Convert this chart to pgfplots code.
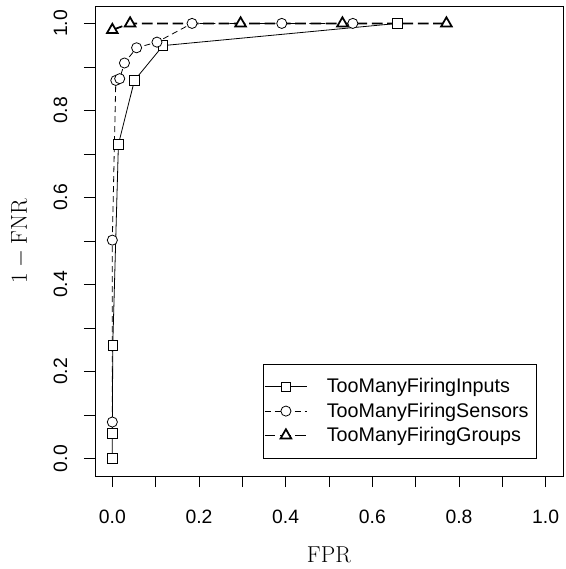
\documentclass[border=0pt]{standalone}
\usepackage[no-math]{fontspec}
\setmainfont{Liberation Sans}
\usepackage{pgfplots}
\pgfplotsset{compat=1.18}
\begin{document}
\begin{tikzpicture}
\path[use as bounding box] (-71.25pt,-69.75pt) rectangle (353.25pt,357pt);
\begin{axis}[
  scale only axis, width=351pt, height=352.5pt,
  xmin=-0.04, xmax=1.04, ymin=-0.04, ymax=1.04,
  axis line style={line width=0.6pt},
  tick align=outside, major tick length=8.25pt,
  tick style={line width=0.6pt, black},
  xtick={0,0.1,0.2,0.3,0.4,0.5,0.6,0.7,0.8,0.9,1.0},
  ytick={0,0.1,0.2,0.3,0.4,0.5,0.6,0.7,0.8,0.9,1.0},
  xticklabels={0.0,,0.2,,0.4,,0.6,,0.8,,1.0},
  yticklabels={0.0,,0.2,,0.4,,0.6,,0.8,,1.0},
  xtick pos=bottom, ytick pos=left,
  /pgf/number format/assume math mode=true,
  ticklabel style={font=\fontsize{14.5}{16}\selectfont},
  xticklabel style={yshift=-14pt},
  yticklabel style={rotate=90, anchor=south, yshift=9pt},
  xlabel={$\mathrm{FPR}$}, ylabel={$1-\mathrm{FNR}$},
  label style={font=\fontsize{19}{22}\selectfont},
  xlabel style={at={(axis description cs:0.5,-0.168)}, anchor=center},
  ylabel style={at={(axis description cs:-0.1603,0.5)}, anchor=center},
  clip=false,
  legend style={at={(axis cs:0.98,0)}, anchor=south east, draw=black, line width=0.6pt,
    font=\fontsize{14.8}{16}\selectfont, row sep=2pt, inner xsep=0pt, inner ysep=9pt},
  legend cell align=left,
  legend image code/.code={\draw[mark repeat=2,mark phase=2,#1] plot coordinates {(0pt,0pt) (16pt,0pt) (32pt,0pt)}; \path (44pt,0pt);},
]
\addplot[black, line width=0.6pt, mark=square*, mark size=3.6pt, mark options={solid, fill=white, line width=0.6pt}]
  coordinates {(0,0) (0,0.058) (0.001,0.26) (0.014,0.722) (0.051,0.869) (0.117,0.949) (0.658,1.0)};
\addlegendentry{TooManyFiringInputs}
\addplot[black, line width=0.6pt, dash pattern=on 4.5pt off 3pt, mark=*, mark size=3.8pt, mark options={solid, fill=white, line width=0.6pt}]
  coordinates {(0,0.084) (0,0.502) (0.008,0.869) (0.017,0.873) (0.028,0.909) (0.056,0.944) (0.103,0.957) (0.184,1.0) (0.391,1.0) (0.555,1.0)};
\addlegendentry{TooManyFiringSensors\hspace*{4pt}}
\addplot[black, line width=1.3pt, dash pattern=on 8pt off 3.5pt, mark=triangle*, mark size=4.6pt, mark options={solid, fill=white, line width=1.3pt}]
  coordinates {(0,0.985) (0.041,1.0) (0.296,1.0) (0.531,1.0) (0.771,1.0)};
\addlegendentry{TooManyFiringGroups}
\end{axis}
\end{tikzpicture}
\end{document}
